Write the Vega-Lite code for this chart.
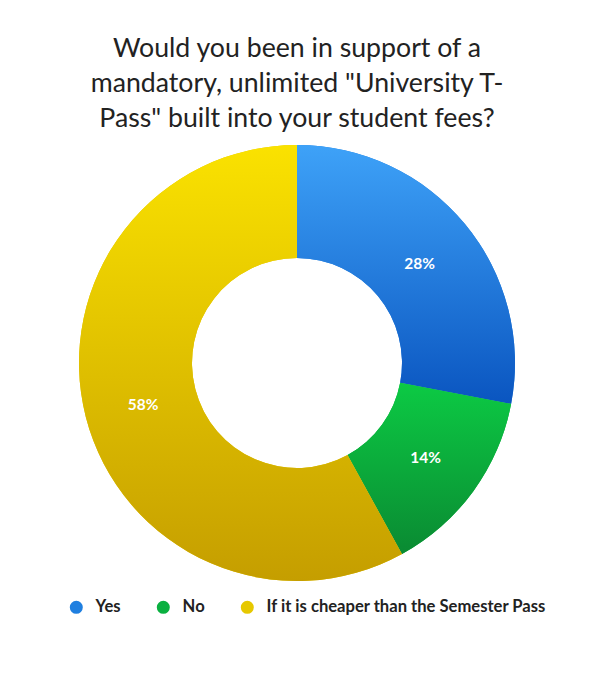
{
  "$schema": "https://vega.github.io/schema/vega-lite/v6.json",
  "autosize": {"type": "none"},
  "width": 458,
  "height": 436,
  "padding": {"left": 68, "top": 145, "right": 75, "bottom": 102},
  "background": "white",
  "title": {
    "text": ["Would you been in support of a", "mandatory, unlimited \"University T-", "Pass\" built into your student fees?"],
    "font": "Lato",
    "fontSize": 26.7,
    "fontWeight": "normal",
    "color": "#222222",
    "lineHeight": 35,
    "offset": 12,
    "anchor": "middle"
  },
  "config": {"view": {"stroke": null}},
  "data": {
    "values": [
      {"answer": "Yes", "idx": 1, "share": 0.28},
      {"answer": "No", "idx": 2, "share": 0.14},
      {"answer": "If it is cheaper than the Semester Pass", "idx": 3, "share": 0.58}
    ]
  },
  "transform": [
    {"stack": "share", "groupby": [], "sort": [{"field": "idx"}], "as": ["s0", "s1"]}
  ],
  "layer": [
    {
      "mark": {"type": "arc", "outerRadius": 218, "innerRadius": 105},
      "encoding": {
        "theta": {"field": "s0", "type": "quantitative", "scale": {"domain": [0, 1]}},
        "theta2": {"field": "s1"},
        "color": {
          "field": "answer",
          "type": "nominal",
          "sort": ["Yes", "No", "If it is cheaper than the Semester Pass"],
          "scale": {
            "domain": ["Yes", "No", "If it is cheaper than the Semester Pass"],
            "range": ["#1f7fe0", "#0ab040", "#e6c800"]
          },
          "legend": {
            "orient": "bottom",
            "direction": "horizontal",
            "title": null,
            "offset": 18,
            "symbolType": "circle",
            "symbolSize": 170,
            "symbolStrokeWidth": 0,
            "labelFont": "Lato",
            "labelFontSize": 16.6,
            "labelFontWeight": "bold",
            "labelColor": "#222222",
            "labelLimit": 400,
            "labelOffset": 11,
            "columnPadding": 34
          }
        }
      }
    },
    {
      "transform": [{"filter": "datum.answer === 'Yes'"}],
      "mark": {
        "type": "arc", "outerRadius": 218, "innerRadius": 105,
        "fill": {"gradient": "linear", "x1": 0, "y1": 0, "x2": 0, "y2": 1,
          "stops": [{"offset": 0, "color": "#3ea2f8"}, {"offset": 1, "color": "#0a55c0"}]}
      },
      "encoding": {
        "theta": {"field": "s0", "type": "quantitative", "scale": {"domain": [0, 1]}},
        "theta2": {"field": "s1"}
      }
    },
    {
      "transform": [{"filter": "datum.answer === 'No'"}],
      "mark": {
        "type": "arc", "outerRadius": 218, "innerRadius": 105,
        "fill": {"gradient": "linear", "x1": 0, "y1": 0, "x2": 0, "y2": 1,
          "stops": [{"offset": 0, "color": "#0cca44"}, {"offset": 1, "color": "#0a8a32"}]}
      },
      "encoding": {
        "theta": {"field": "s0", "type": "quantitative", "scale": {"domain": [0, 1]}},
        "theta2": {"field": "s1"}
      }
    },
    {
      "transform": [{"filter": "datum.answer === 'If it is cheaper than the Semester Pass'"}],
      "mark": {
        "type": "arc", "outerRadius": 218, "innerRadius": 105,
        "fill": {"gradient": "linear", "x1": 0, "y1": 0, "x2": 0, "y2": 1,
          "stops": [{"offset": 0, "color": "#fae200"}, {"offset": 1, "color": "#c59e00"}]}
      },
      "encoding": {
        "theta": {"field": "s0", "type": "quantitative", "scale": {"domain": [0, 1]}},
        "theta2": {"field": "s1"}
      }
    },
    {
      "mark": {"type": "text", "radius": 159, "dy": 2, "font": "Lato", "fontSize": 15.5, "fontWeight": "bold", "color": "white", "align": "center", "baseline": "middle"},
      "encoding": {
        "theta": {"field": "share", "type": "quantitative", "stack": true, "scale": {"domain": [0, 1]}},
        "order": {"field": "idx", "type": "quantitative"},
        "text": {"field": "share", "type": "quantitative", "format": ".0%"}
      }
    }
  ]
}
